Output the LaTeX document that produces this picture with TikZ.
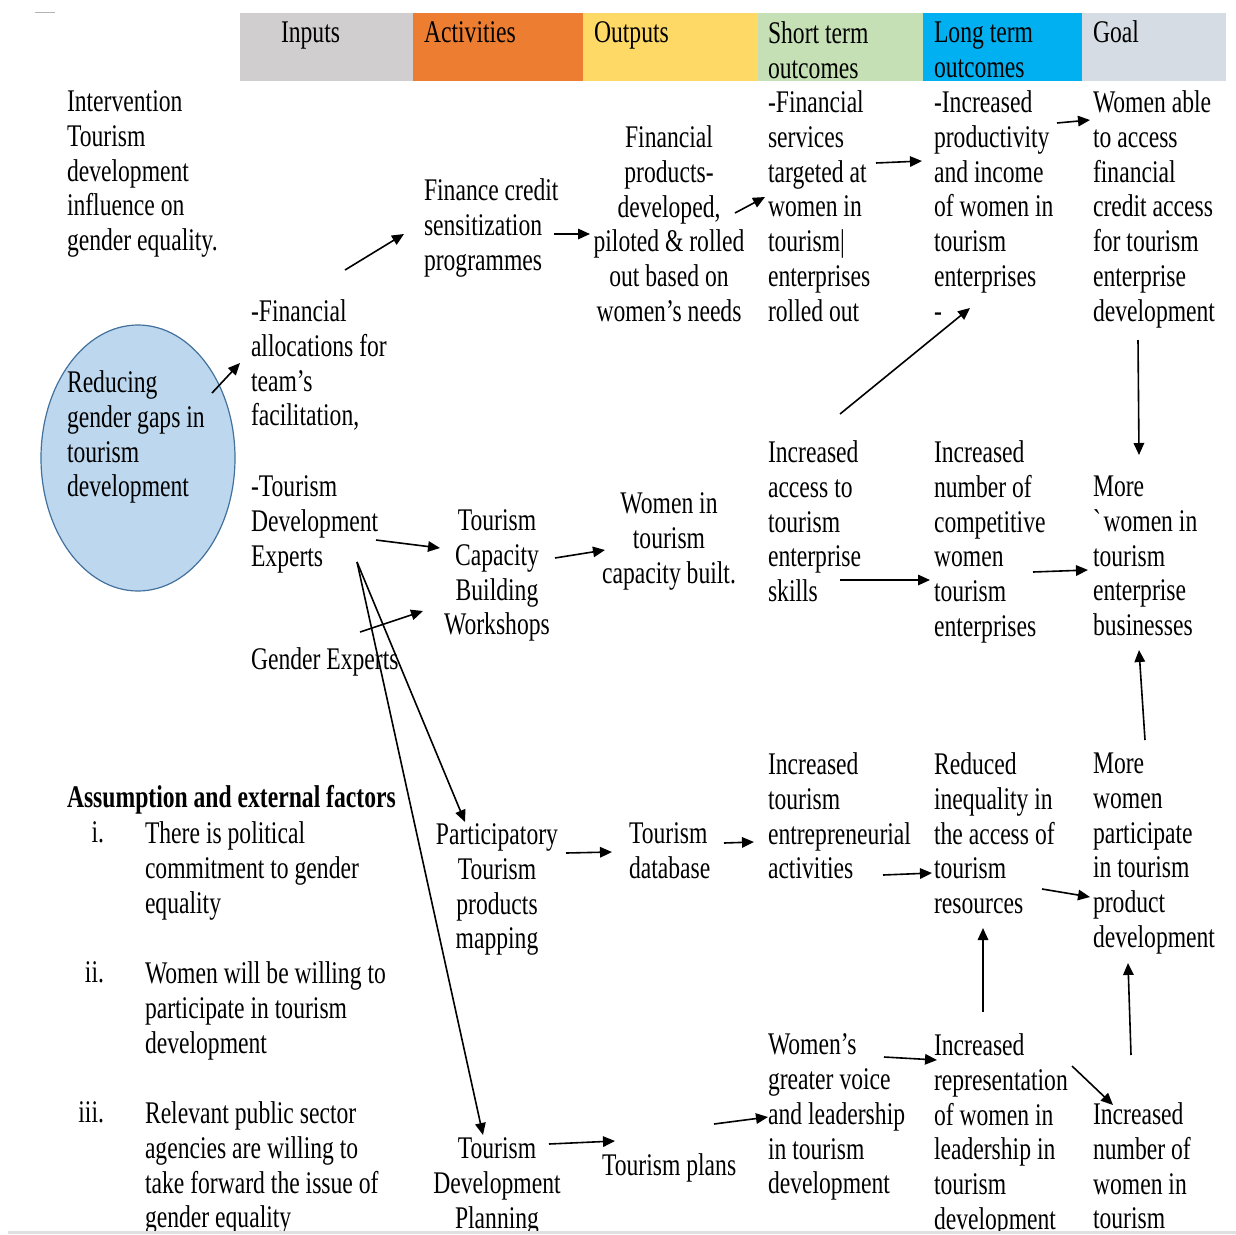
\documentclass[tikz,border=0pt]{standalone}
\usepackage{fontspec}
\setmainfont[FakeStretch=0.75]{Liberation Serif}
\usetikzlibrary{arrows.meta,shapes.geometric}
\definecolor{cIn}{HTML}{D0CECE}
\definecolor{cAct}{HTML}{ED7D31}
\definecolor{cOut}{HTML}{FFD966}
\definecolor{cShort}{HTML}{C5E0B4}
\definecolor{cLong}{HTML}{00B0F0}
\definecolor{cGoal}{HTML}{D6DCE4}
\definecolor{ellf}{HTML}{BDD7EE}
\definecolor{ellb}{HTML}{41719C}
\begin{document}
\begin{tikzpicture}[x=1pt,y=-1pt,
  txt/.style={anchor=north west, inner sep=0pt, outer sep=0pt, align=left,
    font={\fontsize{31.5}{34.7}\selectfont}, execute at begin node={\rule{0pt}{25pt}}},
  ctxt/.style={txt, anchor=north, align=center},
  arr/.style={-{Triangle[length=12pt,width=10.5pt]}, line width=1.6pt}]
\useasboundingbox (0,0) rectangle (1236,1234);
\fill[white] (0,0) rectangle (1236,1234);
\begin{scope}
\clip (0,0) rectangle (1236,1230);
% header
\fill[cIn] (240,13) rectangle (413,81);
\fill[cAct] (413,13) rectangle (583,81);
\fill[cOut] (583,13) rectangle (758,81);
\fill[cShort] (758,13) rectangle (923,81);
\fill[cLong] (923,13) rectangle (1082,81);
\fill[cGoal] (1082,13) rectangle (1226,81);
\draw[gray!60, line width=1pt] (35,12) -- (55,12);
\node[txt] (hIn) at (281,17) {Inputs};
\node[txt] (hAct) at (424,17) {Activities};
\node[txt] (hOut) at (594,17) {Outputs};
\node[txt] (hShort) at (768,22) {Short term\\outcomes};
\node[txt] (hLong) at (934,22) {Long term\\outcomes};
\node[txt] (hGoal) at (1093,17) {Goal};
% body
\node[txt] (interv) at (67,91) {Intervention\\Tourism\\development\\influence on\\gender equality.};
\node[txt] (fcs) at (424,179) {Finance credit\\sensitization\\programmes};
\node[ctxt] (fprod) at (669,126) {Financial\\products-\\developed,\\piloted \& rolled\\out based on\\women’s needs};
\node[txt] (fserv) at (768,91) {-Financial\\services\\targeted at\\women in\\tourism|\\enterprises\\rolled out};
\node[txt] (incprod) at (934,91) {-Increased\\productivity\\and income\\of women in\\tourism\\enterprises\\-};
\node[txt] (goal1) at (1093,91) {Women able\\to access\\financial\\credit access\\for tourism\\enterprise\\development};
\node[txt] (falloc) at (251,300) {-Financial\\allocations for\\team’s\\facilitation,};
\node[ellipse, draw=ellb, fill=ellf, line width=1.2pt, minimum width=194pt, minimum height=266pt, inner sep=0pt] (ell) at (138,458) {};
\node[txt] (elltxt) at (67,371) {Reducing\\gender gaps in\\tourism\\development};
\node[txt] (tde) at (251,476) {-Tourism\\Development\\Experts};
\node[txt] (gexp) at (251,644) {Gender Experts};
\node[ctxt] (tcb) at (497,510) {Tourism\\Capacity\\Building\\Workshops};
\node[ctxt] (wcap) at (669,493) {Women in\\tourism\\capacity built.};
\node[txt] (iacc) at (768,441) {Increased\\access to\\tourism\\enterprise\\skills};
\node[txt] (incomp) at (934,441) {Increased\\number of\\competitive\\women\\tourism\\enterprises};
\node[txt] (morebiz) at (1093,476) {More\\\textasciigrave women in\\tourism\\enterprise\\businesses};
\node[txt, font={\fontsize{31.5}{34.7}\selectfont\bfseries}] (asum) at (67,782) {Assumption and external factors};
\node[txt, anchor=north east] (n1) at (104,817) {i.};
\node[txt] (it1) at (145,822) {There is political\\commitment to gender\\equality};
\node[txt, anchor=north east] (n2) at (104,957) {ii.};
\node[txt] (it2) at (145,962) {Women will be willing to\\participate in tourism\\development};
\node[txt, anchor=north east] (n3) at (104,1097) {iii.};
\node[txt] (it3) at (145,1102) {Relevant public sector\\agencies are willing to\\take forward the issue of\\gender equality};
\node[ctxt] (ptpm) at (497,824) {Participatory\\Tourism\\products\\mapping};
\node[txt] (tdb) at (629,823) {Tourism\\database};
\node[txt] (ient) at (768,753) {Increased\\tourism\\entrepreneurial\\activities};
\node[txt] (rineq) at (934,753) {Reduced\\inequality in\\the access of\\tourism\\resources};
\node[txt] (mpart) at (1093,753) {More\\women\\participate\\in tourism\\product\\development};
\node[ctxt] (tdp) at (497,1138) {Tourism\\Development\\Planning};
\node[txt] (tplans) at (602,1150) {Tourism plans};
\node[txt] (wvoice) at (768,1034) {Women’s\\greater voice\\and leadership\\in tourism\\development};
\node[txt] (irep) at (934,1034) {Increased\\representation\\of women in\\leadership in\\tourism\\development};
\node[txt] (inum) at (1093,1103) {Increased\\number of\\women in\\tourism};
% arrows
\draw[arr] ([shift={(94,-30)}]falloc.north west) -- ([shift={(-20,55)}]fcs.north west);
\draw[arr] ([shift={(74,-65)}]ell.center) -- ([shift={(-11,63)}]falloc.north west);
\draw[arr] ([shift={(130,55)}]fcs.north west) -- ([shift={(-79,108)}]fprod.north);
\draw[arr] ([shift={(66,87)}]fprod.north) -- ([shift={(-3,106)}]fserv.north west);
\draw[arr] ([shift={(108,72)}]fserv.north west) -- ([shift={(-12,70)}]incprod.north west);
\draw[arr] ([shift={(123,32)}]incprod.north west) -- ([shift={(-3,29)}]goal1.north west);
\draw[arr] ([shift={(72,-27)}]iacc.north west) -- ([shift={(36,217)}]incprod.north west);
\draw[arr] ([shift={(45,249)}]goal1.north west) -- ([shift={(46,-21)}]morebiz.north west);
\draw[arr] ([shift={(125,64)}]tde.north west) -- ([shift={(-57,38)}]tcb.north);
\draw[arr] ([shift={(109,-12)}]gexp.north west) -- ([shift={(-74,101)}]tcb.north);
\draw[arr] ([shift={(58,48)}]tcb.north) -- ([shift={(-64,57)}]wcap.north);
\draw[arr] ([shift={(72,139)}]iacc.north west) -- ([shift={(-4,139)}]incomp.north west);
\draw[arr] ([shift={(99,131)}]incomp.north west) -- ([shift={(-5,94)}]morebiz.north west);
\draw[arr] ([shift={(52,-13)}]mpart.north west) -- ([shift={(46,174)}]morebiz.north west);
\draw[arr] ([shift={(106,86)}]tde.north west) -- ([shift={(-32,-2)}]ptpm.north);
\draw[arr] ([shift={(106,86)}]tde.north west) -- ([shift={(-14,-3)}]tdp.north);
\draw[arr] ([shift={(69,29)}]ptpm.north) -- ([shift={(-17,29)}]tdb.north west);
\draw[arr] ([shift={(95,20)}]tdb.north west) -- ([shift={(-14,89)}]ient.north west);
\draw[arr] ([shift={(115,122)}]ient.north west) -- ([shift={(-2,120)}]rineq.north west);
\draw[arr] ([shift={(108,136)}]rineq.north west) -- ([shift={(-3,144)}]mpart.north west);
\draw[arr] ([shift={(49,-22)}]irep.north west) -- ([shift={(49,175)}]rineq.north west);
\draw[arr] ([shift={(38,-48)}]inum.north west) -- ([shift={(35,210)}]mpart.north west);
\draw[arr] ([shift={(116,23)}]wvoice.north west) -- ([shift={(3,26)}]irep.north west);
\draw[arr] ([shift={(138,32)}]irep.north west) -- ([shift={(20,2)}]inum.north west);
\draw[arr] ([shift={(112,-26)}]tplans.north west) -- ([shift={(0,83)}]wvoice.north west);
\draw[arr] ([shift={(52,6)}]tdp.north) -- ([shift={(13,-9)}]tplans.north west);
\end{scope}
\fill[black!12] (8,1230.5) rectangle (1236,1234);
\end{tikzpicture}
\end{document}
